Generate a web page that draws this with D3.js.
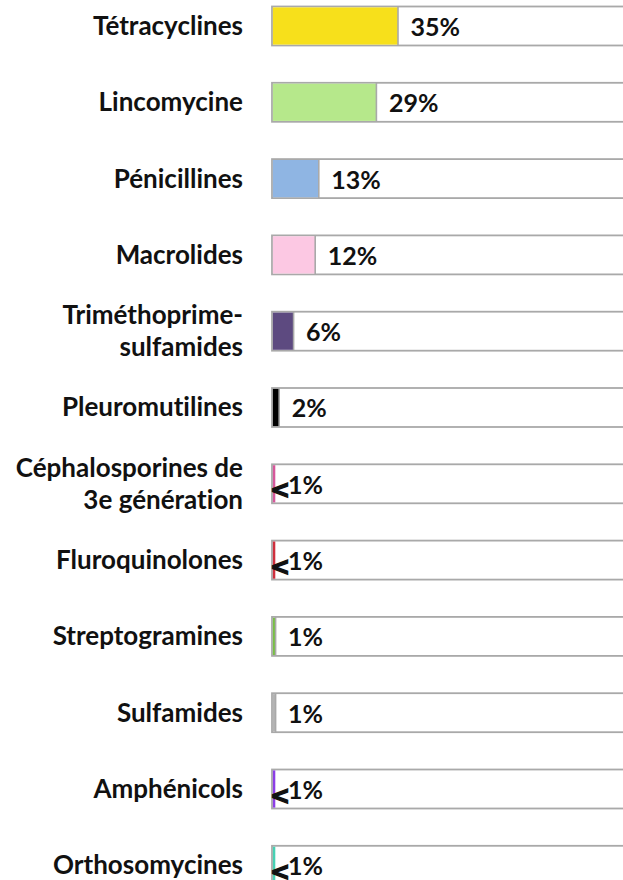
<!DOCTYPE html>
<html>
<head>
<meta charset="utf-8">
<script src="https://cdn.jsdelivr.net/npm/d3@7"></script>
<style>
  html, body { margin: 0; padding: 0; background: #fff; overflow: hidden; }
  svg { display: block; }
  text { font-family: Lato, "Open Sans", sans-serif; fill: #111; font-variant-ligatures: none; font-feature-settings: "liga" 0; }
  tspan.lt { font-family: "DejaVu Sans", sans-serif; font-weight: bold; stroke: #111; stroke-width: 1.3px; }
</style>
</head>
<body>
<svg id="chart" width="623" height="880"></svg>
<script>
const categories = [
  ["Tétracyclines"],
  ["Lincomycine"],
  ["Pénicillines"],
  ["Macrolides"],
  ["Triméthoprime-", "sulfamides"],
  ["Pleuromutilines"],
  ["Céphalosporines de", "3e génération"],
  ["Fluroquinolones"],
  ["Streptogramines"],
  ["Sulfamides"],
  ["Amphénicols"],
  ["Orthosomycines"]
];
const values = [35, 29, 13, 12, 6, 2, 0.5, 0.5, 1, 1, 0.5, 0.5];
const valueLabels = ["35%", "29%", "13%", "12%", "6%", "2%", "<1%", "<1%", "1%", "1%", "<1%", "<1%"];
const colors = ["#f7e01b", "#b6e88b", "#8fb5e3", "#fcc8e3", "#5d4a80", "#000000",
                "#d6589b", "#cf2f3d", "#78c043", "#b4b4b4", "#8c3ee6", "#47d1b4"];

const svg = d3.select("#chart");
const keys = categories.map((c, i) => i);

const y = d3.scaleBand().domain(keys).range([6.5, 884.8]).paddingInner(0.489).paddingOuter(0);
const x0 = 272;
const x = d3.scaleLinear().domain([0, 100]).range([x0, x0 + 360]);

const rows = svg.selectAll("g.row").data(keys).join("g").attr("class", "row");

// track
rows.append("rect")
  .attr("x", x(0))
  .attr("y", i => y(i))
  .attr("width", x(100) - x(0))
  .attr("height", y.bandwidth())
  .attr("fill", "#fff")
  .attr("stroke", "#a9a9a9")
  .attr("stroke-width", 1.8);

// coloured bar
rows.append("rect")
  .attr("x", x(0) + 0.9)
  .attr("y", i => y(i) + 0.9)
  .attr("width", i => Math.max(x(values[i]) - x(0) - 0.9, 2.4))
  .attr("height", y.bandwidth() - 1.8)
  .attr("fill", i => colors[i]);

// divider at bar end
rows.filter(i => values[i] >= 1).append("line")
  .attr("x1", i => x(values[i]))
  .attr("x2", i => x(values[i]))
  .attr("y1", i => y(i))
  .attr("y2", i => y(i) + y.bandwidth())
  .attr("stroke", "#a9a9a9")
  .attr("stroke-width", 1.6);

// value labels
rows.each(function(i) {
  const g = d3.select(this);
  const cy = y(i) + y.bandwidth() / 2;
  const lbl = valueLabels[i];
  const tx = (values[i] < 1 ? x(1) : x(values[i])) + 12.5;
  if (lbl.startsWith("<")) {
    const t = g.append("text").attr("x", x(0) - 2).attr("y", cy + 14.5)
      .attr("font-size", 25).attr("font-weight", 700);
    t.append("tspan").attr("class", "lt").attr("font-size", 24).text("<");
    t.append("tspan").attr("x", tx).attr("y", cy + 10).text(lbl.slice(1));
  } else {
    g.append("text").attr("x", tx).attr("y", cy + 10)
      .attr("font-size", 25).attr("font-weight", 700).text(lbl);
  }
});

// category labels
rows.each(function(i) {
  const g = d3.select(this);
  const cy = y(i) + y.bandwidth() / 2;
  const lines = categories[i];
  const t = g.append("text").attr("text-anchor", "end")
    .attr("font-size", 26).attr("font-weight", 700);
  if (lines.length === 1) {
    t.append("tspan").attr("x", 243).attr("y", cy + 9).text(lines[0]);
  } else {
    t.append("tspan").attr("x", 243).attr("y", cy - 7).text(lines[0]);
    t.append("tspan").attr("x", 243).attr("y", cy + 25).text(lines[1]);
  }
});
</script>
</body>
</html>
